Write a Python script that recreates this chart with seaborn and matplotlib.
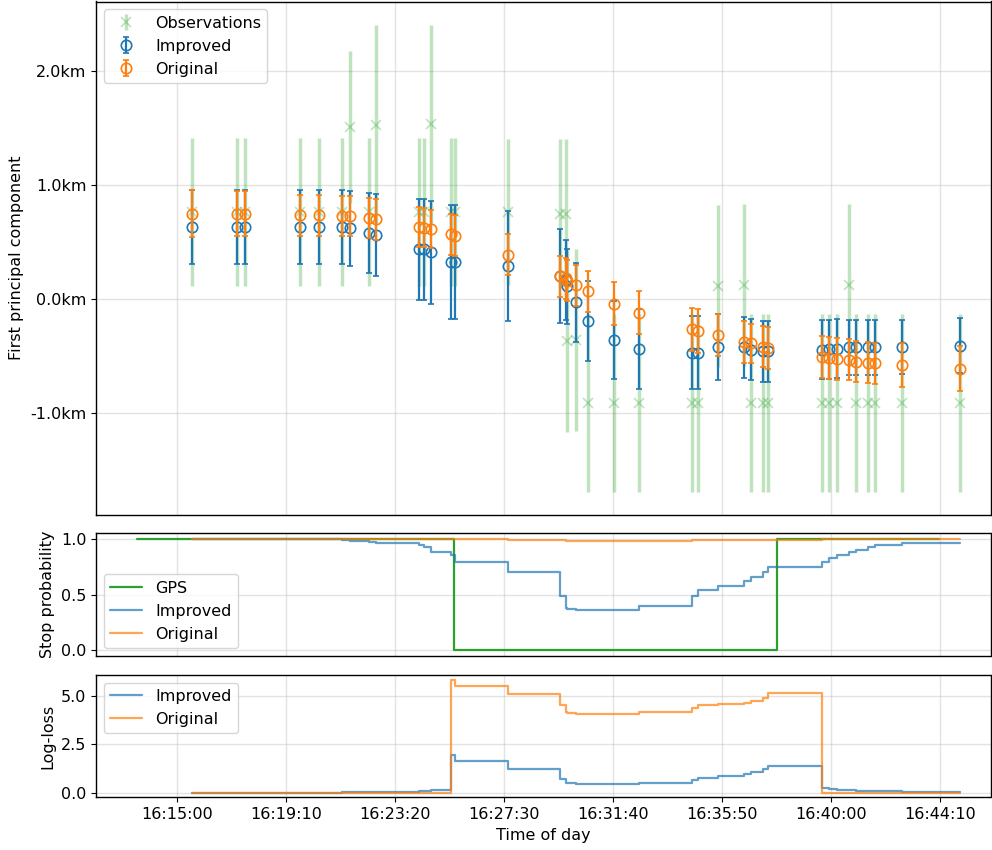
import matplotlib
matplotlib.use("Agg")
import matplotlib.pyplot as plt
import seaborn as sns
import numpy as np
import pandas as pd
from matplotlib.ticker import FuncFormatter, MultipleLocator

# ---------------- data ----------------
obs_time = ["16:15:35", "16:17:17", "16:17:36", "16:19:41", "16:20:25", "16:21:18",
            "16:21:37", "16:22:19", "16:22:36", "16:24:14", "16:24:26", "16:24:43",
            "16:25:27", "16:25:37", "16:27:39", "16:29:39", "16:29:51", "16:29:54",
            "16:30:14", "16:30:41", "16:31:41", "16:32:40", "16:34:40", "16:34:54",
            "16:35:40", "16:36:39", "16:36:55", "16:37:23", "16:37:35", "16:39:38",
            "16:39:55", "16:40:12", "16:40:41", "16:40:57", "16:41:24", "16:41:41",
            "16:42:41", "16:44:55"]

obs_km = [0.76, 0.76, 0.76, 0.76, 0.76, 0.76, 1.51, 0.76, 1.53, 0.76, 0.76, 1.535,
          0.76, 0.76, 0.76, 0.75, 0.75, -0.37, -0.36, -0.91, -0.91, -0.91, -0.91, -0.91,
          0.115, 0.12, -0.91, -0.91, -0.91, -0.91, -0.91, -0.91, 0.125, -0.91, -0.91,
          -0.91, -0.91, -0.91]
obs_err_km = [0.65, 0.65, 0.65, 0.65, 0.65, 0.65, 0.67, 0.65, 0.87, 0.65, 0.65, 0.87,
              0.65, 0.65, 0.64, 0.65, 0.65, 0.80, 0.80, 0.78, 0.78, 0.78, 0.78, 0.78,
              0.71, 0.71, 0.78, 0.78, 0.78, 0.78, 0.78, 0.78, 0.71, 0.78, 0.78,
              0.78, 0.78, 0.78]

improved_km = [0.63, 0.63, 0.63, 0.63, 0.63, 0.63, 0.62, 0.58, 0.565, 0.435, 0.435, 0.41,
               0.325, 0.325, 0.29, 0.20, 0.17, 0.11, -0.03, -0.19, -0.36, -0.44, -0.47, -0.47,
               -0.42, -0.425, -0.445, -0.46, -0.46, -0.445, -0.44, -0.435, -0.425, -0.425,
               -0.425, -0.425, -0.42, -0.41]
improved_err_km = [0.325, 0.325, 0.325, 0.325, 0.325, 0.325, 0.33, 0.35, 0.36, 0.44, 0.44, 0.45,
                   0.50, 0.50, 0.48, 0.41, 0.35, 0.33, 0.35, 0.35, 0.34, 0.35, 0.32, 0.32,
                   0.29, 0.27, 0.27, 0.27, 0.27, 0.26, 0.26, 0.26, 0.24, 0.24,
                   0.24, 0.24, 0.24, 0.24]

original_km = [0.75, 0.75, 0.75, 0.735, 0.735, 0.73, 0.73, 0.71, 0.70, 0.635, 0.625, 0.615,
               0.57, 0.555, 0.39, 0.20, 0.18, 0.16, 0.12, 0.07, -0.04, -0.12, -0.265, -0.28,
               -0.315, -0.375, -0.39, -0.42, -0.43, -0.51, -0.52, -0.53, -0.535, -0.55,
               -0.56, -0.565, -0.58, -0.61]
original_err_km = [0.205, 0.20, 0.20, 0.18, 0.18, 0.175, 0.175, 0.175, 0.18, 0.175, 0.17, 0.17,
                   0.18, 0.18, 0.18, 0.18, 0.18, 0.18, 0.18, 0.18, 0.19, 0.19, 0.19, 0.19,
                   0.185, 0.185, 0.175, 0.18, 0.18, 0.185, 0.185, 0.185, 0.18, 0.18,
                   0.18, 0.18, 0.19, 0.20]

improved_stop = [1.0, 1.0, 0.999, 0.997, 0.995, 0.99, 0.985, 0.975, 0.961, 0.946, 0.925, 0.886,
                 0.857, 0.797, 0.702, 0.49, 0.38, 0.37, 0.364, 0.361, 0.364, 0.394, 0.49, 0.543,
                 0.58, 0.618, 0.657, 0.702, 0.752, 0.791, 0.827, 0.857, 0.881, 0.902,
                 0.925, 0.946, 0.967, 0.967]
original_stop = [1.0, 1.0, 1.0, 1.0, 1.0, 1.0, 1.0, 1.0, 1.0, 1.0, 1.0, 0.999,
                 0.997, 0.996, 0.994, 0.989, 0.985, 0.984, 0.9826, 0.9826, 0.9826, 0.985, 0.987, 0.989,
                 0.9896, 0.990, 0.991, 0.9926, 0.9941, 0.999, 0.999, 0.999, 0.999, 1.0,
                 1.0, 1.0, 1.0, 1.0]

improved_logloss = [0.0, 0.0, 0.0, 0.005, 0.005, 0.01, 0.015, 0.025, 0.05, 0.07, 0.09, 0.15,
                    1.92, 1.62, 1.22, 0.70, 0.50, 0.48, 0.46, 0.46, 0.46, 0.51, 0.66, 0.77,
                    0.86, 0.96, 1.07, 1.22, 1.39, 0.26, 0.20, 0.16, 0.13, 0.11,
                    0.09, 0.07, 0.05, 0.04]
original_logloss = [0.0, 0.0, 0.0, 0.0, 0.0, 0.0, 0.0, 0.0, 0.0, 0.0, 0.0, 0.0,
                    5.81, 5.52, 5.09, 4.52, 4.18, 4.12, 4.05, 4.05, 4.05, 4.18, 4.35, 4.50,
                    4.57, 4.64, 4.74, 4.90, 5.14, 0.0, 0.0, 0.0, 0.0, 0.0,
                    0.0, 0.0, 0.0, 0.0]

gps_time = ["16:13:27", "16:25:35", "16:37:56", "16:44:08"]
gps_stop = [1, 0, 1, 1]

x_tick_step_s = 250
x_limits = ("16:11:54", "16:46:05")


def to_sec(s):
    h, m, sec = (int(v) for v in s.split(":"))
    return h * 3600 + m * 60 + sec


def fmt_time(v, pos=None):
    v = int(round(v))
    return f"{v // 3600:02d}:{(v % 3600) // 60:02d}:{v % 60:02d}"


df = pd.DataFrame({
    "t": [to_sec(s) for s in obs_time],
    "obs": obs_km, "obs_err": obs_err_km,
    "imp": improved_km, "imp_err": improved_err_km,
    "orig": original_km, "orig_err": original_err_km,
    "imp_p": improved_stop, "orig_p": original_stop,
    "imp_ll": improved_logloss, "orig_ll": original_logloss,
})
gps = pd.DataFrame({"t": [to_sec(s) for s in gps_time], "p": gps_stop})

# ---------------- style ----------------
sns.set_style("ticks")
FS = 11.5
plt.rcParams.update({
    "font.family": ["DejaVu Sans"],
    "font.size": FS,
    "axes.labelsize": FS,
    "xtick.labelsize": FS,
    "ytick.labelsize": FS,
    "legend.fontsize": FS,
    "axes.edgecolor": "black",
    "axes.labelcolor": "black",
    "text.color": "black",
    "xtick.color": "black",
    "ytick.color": "black",
    "axes.linewidth": 1.0,
})

BLUE = "#1f77b4"
ORANGE = "#ff7f0e"
GREEN = "#2ca02c"

W, H = 992, 850
fig = plt.figure(figsize=(W / 100, H / 100), dpi=100)


def rect(l, t, r, b):
    return [l / W, 1 - b / H, (r - l) / W, (b - t) / H]


ax1 = fig.add_axes(rect(96, 1.5, 990.5, 515))
ax2 = fig.add_axes(rect(96, 533.3, 990.5, 656), sharex=ax1)
ax3 = fig.add_axes(rect(96, 674.7, 990.5, 797.3), sharex=ax1)

# ---------------- top panel ----------------
ax1.errorbar(df["t"], df["obs"], yerr=df["obs_err"], fmt="x", color=GREEN, alpha=0.3,
             elinewidth=2.5, ms=7, mew=1.2, label="Observations", zorder=1)
ax1.errorbar(df["t"], df["imp"], yerr=df["imp_err"], fmt="o", color=BLUE, mfc="none",
             elinewidth=1.6, capsize=2.5, capthick=1.6, ms=7.5, mew=1.2,
             label="Improved", zorder=2)
ax1.errorbar(df["t"], df["orig"], yerr=df["orig_err"], fmt="o", color=ORANGE, mfc="none",
             elinewidth=1.6, capsize=2.5, capthick=1.6, ms=7.5, mew=1.2,
             label="Original", zorder=3)
ax1.set_ylim(-1.895, 2.61)
ax1.yaxis.set_major_locator(MultipleLocator(1.0))
ax1.yaxis.set_major_formatter(FuncFormatter(lambda v, p: f"{v:.1f}km".replace("\u2212", "-")))
ax1.set_ylabel("First principal component")
ax1.legend(loc="upper left")

# ---------------- middle panel ----------------
sns.lineplot(data=gps, x="t", y="p", ax=ax2, color=GREEN, lw=1.6,
             drawstyle="steps-post", label="GPS", estimator=None, sort=False)
sns.lineplot(data=df, x="t", y="imp_p", ax=ax2, color=BLUE, lw=1.6, alpha=0.7,
             drawstyle="steps-post", label="Improved", estimator=None, sort=False)
sns.lineplot(data=df, x="t", y="orig_p", ax=ax2, color=ORANGE, lw=1.6, alpha=0.7,
             drawstyle="steps-post", label="Original", estimator=None, sort=False)
ax2.set_ylim(-0.05, 1.05)
ax2.yaxis.set_major_locator(MultipleLocator(0.5))
ax2.set_ylabel("Stop probability")
ax2.set_xlabel("")
ax2.legend(loc="lower left")

# ---------------- bottom panel ----------------
sns.lineplot(data=df, x="t", y="imp_ll", ax=ax3, color=BLUE, lw=1.6, alpha=0.7,
             drawstyle="steps-post", label="Improved", estimator=None, sort=False)
sns.lineplot(data=df, x="t", y="orig_ll", ax=ax3, color=ORANGE, lw=1.6, alpha=0.7,
             drawstyle="steps-post", label="Original", estimator=None, sort=False)
ax3.set_ylim(-0.24, 6.08)
ax3.yaxis.set_major_locator(MultipleLocator(2.5))
ax3.set_ylabel("Log-loss")
ax3.set_xlabel("Time of day")
ax3.legend(loc="upper left")

# ---------------- shared x axis ----------------
ax3.xaxis.set_major_locator(MultipleLocator(x_tick_step_s))
ax3.xaxis.set_major_formatter(FuncFormatter(fmt_time))
ax3.set_xlim(to_sec(x_limits[0]), to_sec(x_limits[1]))
for ax in (ax1, ax2):
    ax.tick_params(axis="x", bottom=False, labelbottom=False)
    ax.set_xlabel("")
for ax in (ax1, ax2, ax3):
    ax.grid(True, color="#b0b0b0", alpha=0.35, lw=1.0)
    for s in ax.spines.values():
        s.set_visible(True)

fig.savefig("out.png", dpi=100)
